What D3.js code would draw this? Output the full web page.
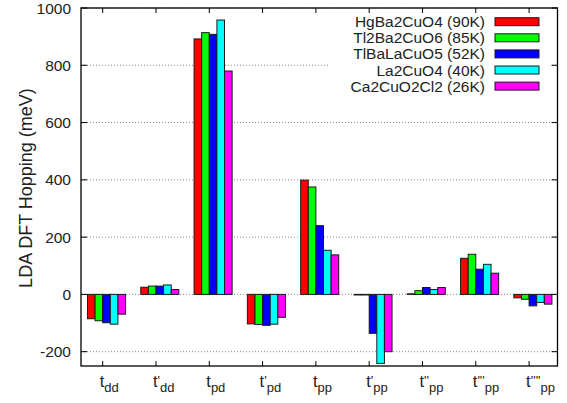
<!DOCTYPE html>
<html>
<head>
<meta charset="utf-8">
<script src="https://cdn.jsdelivr.net/npm/d3@7"></script>
<style>
  body { margin: 0; background: #fff; }
  svg { font-family: "Liberation Sans", Arial, sans-serif; }
</style>
</head>
<body>
<svg id="chart" width="567" height="403"></svg>
<script>
// hopping labels: "t" + primes + subscript
var catPrimes = [0, 1, 0, 1, 0, 1, 2, 3, 4]
var catSubs = ["dd", "dd", "pd", "pd", "pp", "pp", "pp", "pp", "pp"]

var seriesNames = ["HgBa2CuO4 (90K)", "Tl2Ba2CuO6 (85K)", "TlBaLaCuO5 (52K)", "La2CuO4 (40K)", "Ca2CuO2Cl2 (26K)"]
var seriesColors = ["#ff0000", "#00ff00", "#0000ff", "#00ffff", "#ff00ff"]

var hgba = [-85, 25, 892, -103, 399, -2, 2, 126, -12]
var tl2ba = [-92, 29, 914, -105, 375, -2, 13, 140, -17]
var tlbala = [-99, 29, 908, -108, 240, -136, 24, 88, -40]
var la2cuo = [-104, 33, 958, -104, 154, -241, 17, 105, -28]
var ca2cuo = [-69, 17, 780, -80, 138, -200, 24, 74, -34]
var seriesValues = [hgba, tl2ba, tlbala, la2cuo, ca2cuo]

var yTicks = [-200, 0, 200, 400, 600, 800, 1000]

var drawChart = function(target)
{
    var plot = {left: 81, right: 557.5, top: 8, bottom: 366}
    var svg = d3.select(target)

    var xScale = d3.scaleLinear()
        .domain([-0.407, 8.533])
        .range([plot.left, plot.right])
    var yScale = d3.scaleLinear()
        .domain([-250, 1000])
        .range([plot.bottom, plot.top])
    var barW = xScale(1 / 7) - xScale(0)

    // grid
    svg.append("g").selectAll("line")
        .data(yTicks)
        .enter()
        .append("line")
        .attr("x1", plot.left)
        .attr("x2", plot.right)
        .attr("y1", function(d){return yScale(d)})
        .attr("y2", function(d){return yScale(d)})
        .attr("stroke", "#888")
        .attr("stroke-width", 1)
        .attr("stroke-dasharray", "1,2")

    // bars
    var groups = svg.append("g")
        .selectAll("g")
        .data(seriesValues)
        .enter()
        .append("g")
        .attr("fill", function(d, i){return seriesColors[i]})
    groups.each(function(vals, s)
    {
        d3.select(this).selectAll("rect")
            .data(vals)
            .enter()
            .append("rect")
            .attr("x", function(v, i){return xScale(i + (s - 2) / 7)})
            .attr("width", barW)
            .attr("y", function(v){return yScale(Math.max(v, 0))})
            .attr("height", function(v){return Math.abs(yScale(v) - yScale(0))})
            .attr("stroke", "#1a1a1a")
            .attr("stroke-width", 1)
    })

    // key (opaque)
    var key = svg.append("g")
    key.append("rect")
        .attr("x", 330)
        .attr("y", 12)
        .attr("width", 221)
        .attr("height", 84)
        .attr("fill", "#fff")
    var keyRows = key.selectAll("g")
        .data(seriesNames)
        .enter()
        .append("g")
        .attr("transform", function(d, i){return "translate(0," + (21.7 + i * 16.1) + ")"})
    keyRows.append("text")
        .text(function(d){return d})
        .attr("x", 485)
        .attr("y", 5.5)
        .attr("text-anchor", "end")
        .attr("font-size", 15.5)
        .attr("fill", "#222")
    keyRows.append("rect")
        .attr("x", 495)
        .attr("y", -4)
        .attr("width", 44)
        .attr("height", 8)
        .attr("fill", function(d, i){return seriesColors[i]})
        .attr("stroke", "#1a1a1a")
        .attr("stroke-width", 1)

    // frame and ticks
    var axes = svg.append("g").attr("stroke", "#000").attr("stroke-width", 1)
    axes.append("rect")
        .attr("x", plot.left)
        .attr("y", plot.top)
        .attr("width", plot.right - plot.left)
        .attr("height", plot.bottom - plot.top)
        .attr("fill", "none")
        .attr("stroke-width", 1.3)
    var cats = d3.range(catSubs.length)
    axes.selectAll(".xt")
        .data(cats)
        .enter()
        .append("path")
        .attr("d", function(i){
            var x = xScale(i)
            return "M" + x + "," + plot.bottom + "v-5M" + x + "," + plot.top + "v5"
        })
    axes.selectAll(".yt")
        .data(yTicks)
        .enter()
        .append("path")
        .attr("d", function(d){
            var y = yScale(d)
            return "M" + plot.left + "," + y + "h6M" + plot.right + "," + y + "h-6"
        })

    // y tick labels
    svg.append("g").selectAll("text")
        .data(yTicks)
        .enter()
        .append("text")
        .text(function(d){return d})
        .attr("x", 71)
        .attr("y", function(d){return yScale(d) + 5.5})
        .attr("text-anchor", "end")
        .attr("font-size", 15.5)
        .attr("fill", "#222")

    // x labels
    var xl = svg.append("g").selectAll("text")
        .data(cats)
        .enter()
        .append("text")
        .attr("x", function(i){return xScale(i) - 3})
        .attr("y", 387)
        .attr("font-size", 16.5)
        .attr("fill", "#222")
    xl.append("tspan")
        .text("t")
    xl.append("tspan")
        .text(function(i){return "'".repeat(catPrimes[i])})
        .attr("font-size", 13)
        .attr("dy", -2)
    xl.append("tspan")
        .text(function(i){return catSubs[i]})
        .attr("font-size", 13)
        .attr("dy", function(i){return catPrimes[i] > 0 ? 7 : 5})
}

drawChart("#chart")

// y label
d3.select("#chart").append("text")
    .text("LDA DFT Hopping (meV)")
    .attr("transform", "translate(32,188) rotate(-90)")
    .attr("text-anchor", "middle")
    .attr("font-size", 18)
    .attr("fill", "#222")
</script>
</body>
</html>
